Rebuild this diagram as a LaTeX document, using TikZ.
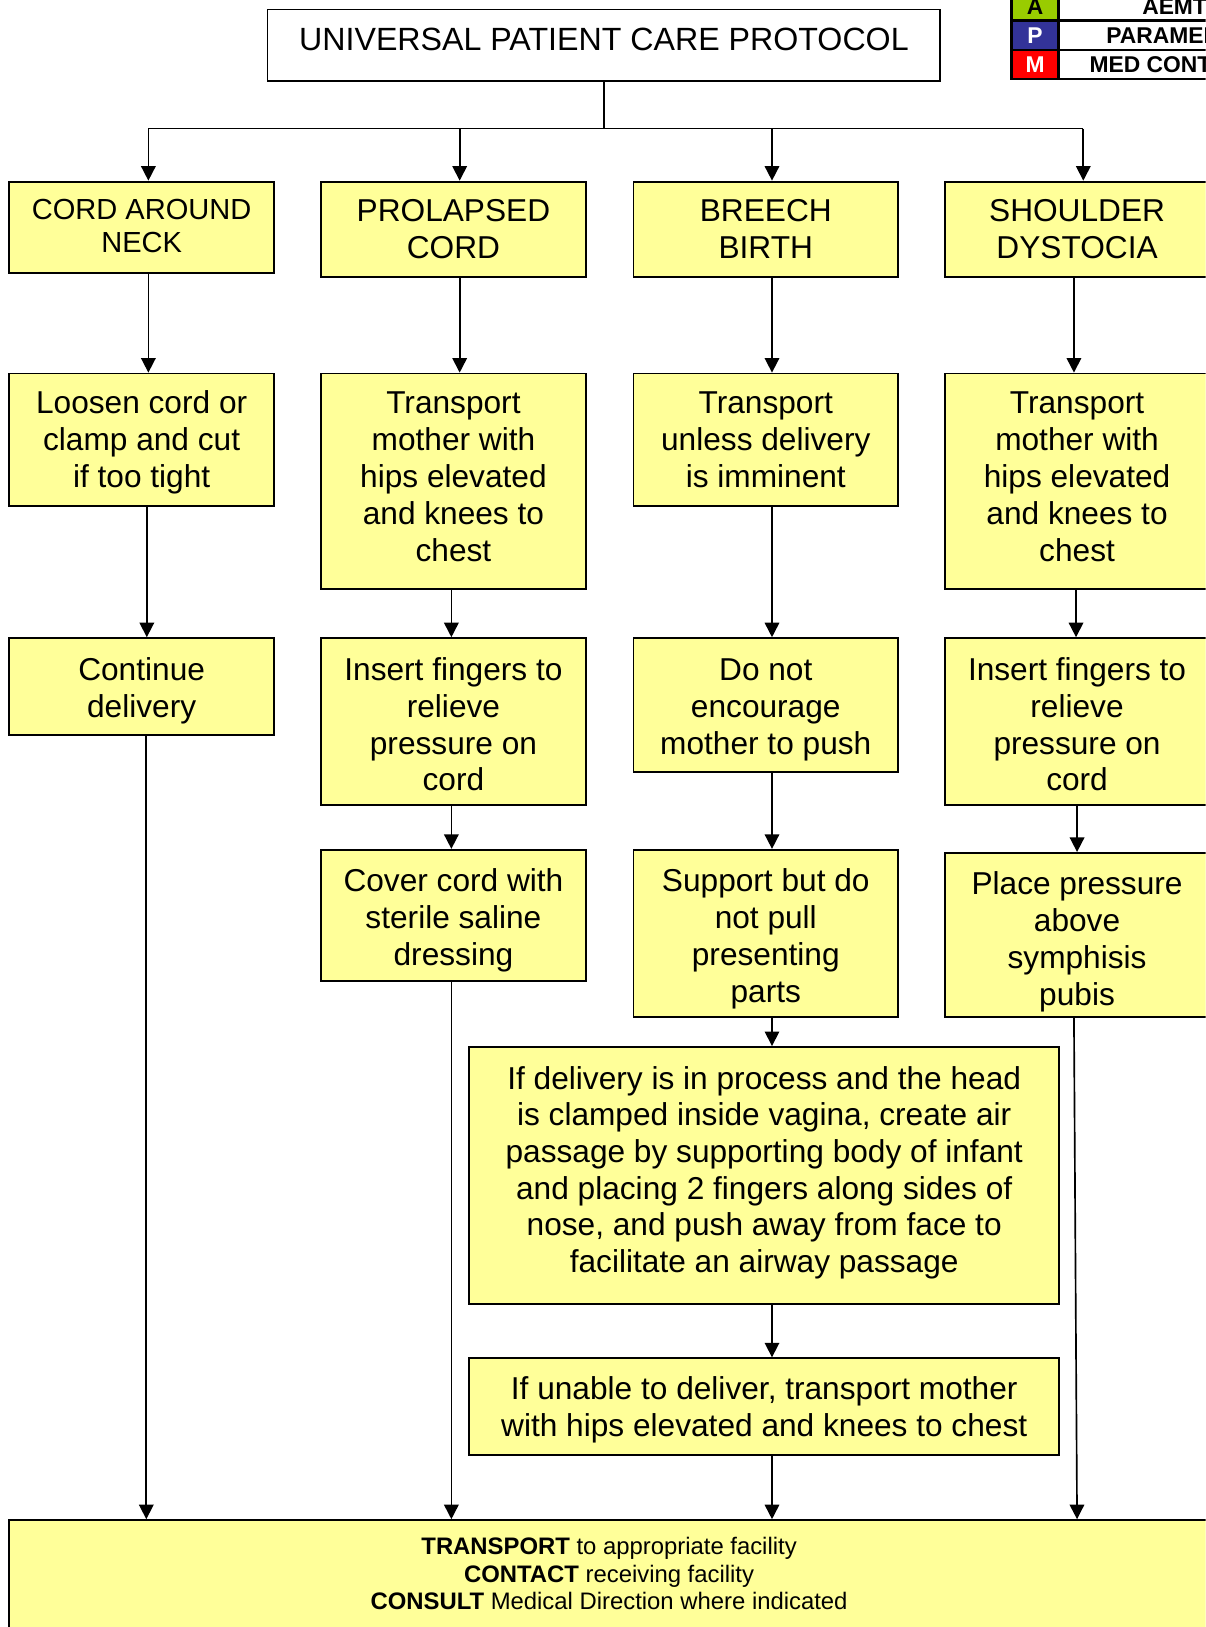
\documentclass[tikz,border=0pt]{standalone}
\usepackage{fontspec}
\setmainfont{Liberation Sans}
\usetikzlibrary{arrows.meta}
\definecolor{boxy}{HTML}{FFFF99}
\definecolor{lgreen}{HTML}{99CC00}
\definecolor{lblue}{HTML}{333399}
\definecolor{lred}{HTML}{FF0000}
% width, height, first-baseline offset from top, text
\newcommand\btxt[4]{\parbox[c][#2][t]{#1}{\centering\rule{0pt}{#3}#4\par}}
\begin{document}
\begin{tikzpicture}[x=1pt,y=-1pt,
  stepbox/.style={draw, fill=boxy, line width=1.8pt, inner sep=0pt,
    font=\fontsize{30.5}{35.6}\selectfont},
  arr/.style={line width=1.6pt, -{Triangle[length=14pt,width=14pt]}},
  link/.style={line width=1.6pt},
  legtxt/.style={font=\fontsize{22}{24}\selectfont\bfseries, inner sep=0pt}]
\useasboundingbox (0,0) rectangle (1162,1568);
\clip (0,0) rectangle (1162,1568);

% title
\node[draw, line width=1.5pt, minimum width=648pt, minimum height=69pt, inner sep=0pt,
  font=\fontsize{31}{36}\selectfont, text height=22.2pt, text depth=11pt] (t) at (582,43.5)
  {UNIVERSAL PATIENT CARE PROTOCOL};

% legend
\fill[lgreen] (975,-8) rectangle (1020,20);
\fill[lblue] (975,20) rectangle (1020,48);
\fill[lred] (975,48) rectangle (1020,76);
\draw[line width=2.5pt] (975,-8) rectangle (1240,76);
\draw[line width=2.5pt] (975,20) -- (1240,20) (975,48) -- (1240,48) (1020,-8) -- (1020,76);
\node[legtxt, text=black] (la) at (997.5,6) {A};
\node[legtxt, text=white] (lp) at (997.5,34) {P};
\node[legtxt, text=white] (lm) at (997.5,62) {M};
\node[legtxt] (la2) at (1132,6) {AEMT};
\node[legtxt] (lp2) at (1132,34) {PARAMEDIC};
\node[legtxt] (lm2) at (1132,62) {MED CONTROL};

% row 1
\node[stepbox, font=\fontsize{28}{31}\selectfont] (n11) at (136.5,219) {\btxt{255pt}{88pt}{37pt}{CORD AROUND\\NECK}};
\node[stepbox] (n12) at (437,221) {\btxt{255pt}{92pt}{38.5pt}{PROLAPSED\\CORD}};
\node[stepbox] (n13) at (738,221) {\btxt{255pt}{92pt}{38.5pt}{BREECH\\BIRTH}};
\node[stepbox] (n14) at (1038,221) {\btxt{255pt}{92pt}{38.5pt}{SHOULDER\\DYSTOCIA}};

% row 2
\node[stepbox] (n21) at (136.5,424) {\btxt{255pt}{128pt}{38.5pt}{Loosen cord or\\clamp and cut\\if too tight}};
\node[stepbox] (n22) at (437,464) {\btxt{255pt}{208pt}{38.5pt}{Transport\\mother with\\hips elevated\\and knees to\\chest}};
\node[stepbox] (n23) at (738,424) {\btxt{255pt}{128pt}{38.5pt}{Transport\\unless delivery\\is imminent}};
\node[stepbox] (n24) at (1038,464) {\btxt{255pt}{208pt}{38.5pt}{Transport\\mother with\\hips elevated\\and knees to\\chest}};

% row 3
\node[stepbox] (n31) at (136.5,661.5) {\btxt{255pt}{93pt}{40.5pt}{Continue\\delivery}};
\node[stepbox] (n32) at (437,695.5) {\btxt{255pt}{161pt}{40.5pt}{Insert fingers to\\relieve\\pressure on\\cord}};
\node[stepbox] (n33) at (738,679.5) {\btxt{255pt}{129pt}{40.5pt}{Do not\\encourage\\mother to push}};
\node[stepbox] (n34) at (1038,695.5) {\btxt{255pt}{161pt}{40.5pt}{Insert fingers to\\relieve\\pressure on\\cord}};

% row 4
\node[stepbox] (n42) at (437,882) {\btxt{255pt}{126pt}{40pt}{Cover cord with\\sterile saline\\dressing}};
\node[stepbox] (n43) at (738,899.5) {\btxt{255pt}{161pt}{40pt}{Support but do\\not pull\\presenting\\parts}};
\node[stepbox] (n44) at (1038,901) {\btxt{255pt}{158pt}{40.5pt}{Place pressure\\above\\symphisis\\pubis}};

% wide boxes
\node[stepbox, font=\fontsize{30.5}{35.4}\selectfont] (n5) at (736.5,1133)
  {\btxt{569pt}{248pt}{40.5pt}{If delivery is in process and the head\\is clamped inside vagina, create air\\passage by supporting body of infant\\and placing 2 fingers along sides of\\nose, and push away from face to\\facilitate an airway passage}};
\node[stepbox] (n6) at (736.5,1355.5)
  {\btxt{569pt}{93pt}{40pt}{If unable to deliver, transport mother\\with hips elevated and knees to chest}};

% bottom box
\node[stepbox, font=\fontsize{23}{26.5}\selectfont] (bot) at (587,1520)
  {\btxt{1156pt}{110pt}{33.2pt}{\textbf{TRANSPORT} to appropriate facility\\\textbf{CONTACT} receiving facility\\\textbf{CONSULT} Medical Direction where indicated}};

% branch
\coordinate (hb) at (582,124);
\coordinate (b1) at (143,124);
\coordinate (b2) at (443,124);
\coordinate (b3) at (744,124);
\coordinate (b4) at (1044,124);
\draw[link] (t.south) -- (hb);
\draw[link] (b1) -- (b4);
\draw[arr] (b1) -- (b1 |- n11.north);
\draw[arr] (b2) -- (b2 |- n12.north);
\draw[arr] (b3) -- (b3 |- n13.north);
\draw[arr] (b4) -- (b4 |- n14.north);

% column 1
\draw[arr] ([xshift=6.5pt]n11.south) -- ([xshift=6.5pt]n21.north);
\draw[arr] ([xshift=5pt]n21.south) -- ([xshift=5pt]n31.north);
\draw[arr] ([xshift=4.5pt]n31.south) -- ([xshift=4.5pt]n31.south |- bot.north);

% column 2
\draw[arr] ([xshift=6pt]n12.south) -- ([xshift=6pt]n22.north);
\draw[arr] ([xshift=-2pt]n22.south) -- ([xshift=-2pt]n32.north);
\draw[arr] ([xshift=-2pt]n32.south) -- ([xshift=-2pt]n42.north);
\draw[arr] ([xshift=-2pt]n42.south) -- ([xshift=-2pt]n42.south |- bot.north);

% column 3
\draw[arr] ([xshift=6pt]n13.south) -- ([xshift=6pt]n23.north);
\draw[arr] ([xshift=6pt]n23.south) -- ([xshift=6pt]n33.north);
\draw[arr] ([xshift=6pt]n33.south) -- ([xshift=6pt]n43.north);
\draw[arr] ([xshift=6pt]n43.south) -- ([xshift=6pt]n43.south |- n5.north);
\draw[arr] ([xshift=7.5pt]n5.south) -- ([xshift=7.5pt]n6.north);
\draw[arr] ([xshift=7.5pt]n6.south) -- ([xshift=7.5pt]n6.south |- bot.north);

% column 4
\draw[arr] ([xshift=-3pt]n14.south) -- ([xshift=-3pt]n24.north);
\draw[arr] ([xshift=-1pt]n24.south) -- ([xshift=-1pt]n34.north);
\draw[arr] (n34.south) -- (n44.north);
\draw[arr] ([xshift=-3pt]n44.south) -- ([xshift=0pt]n44.south |- bot.north);
\end{tikzpicture}
\end{document}
